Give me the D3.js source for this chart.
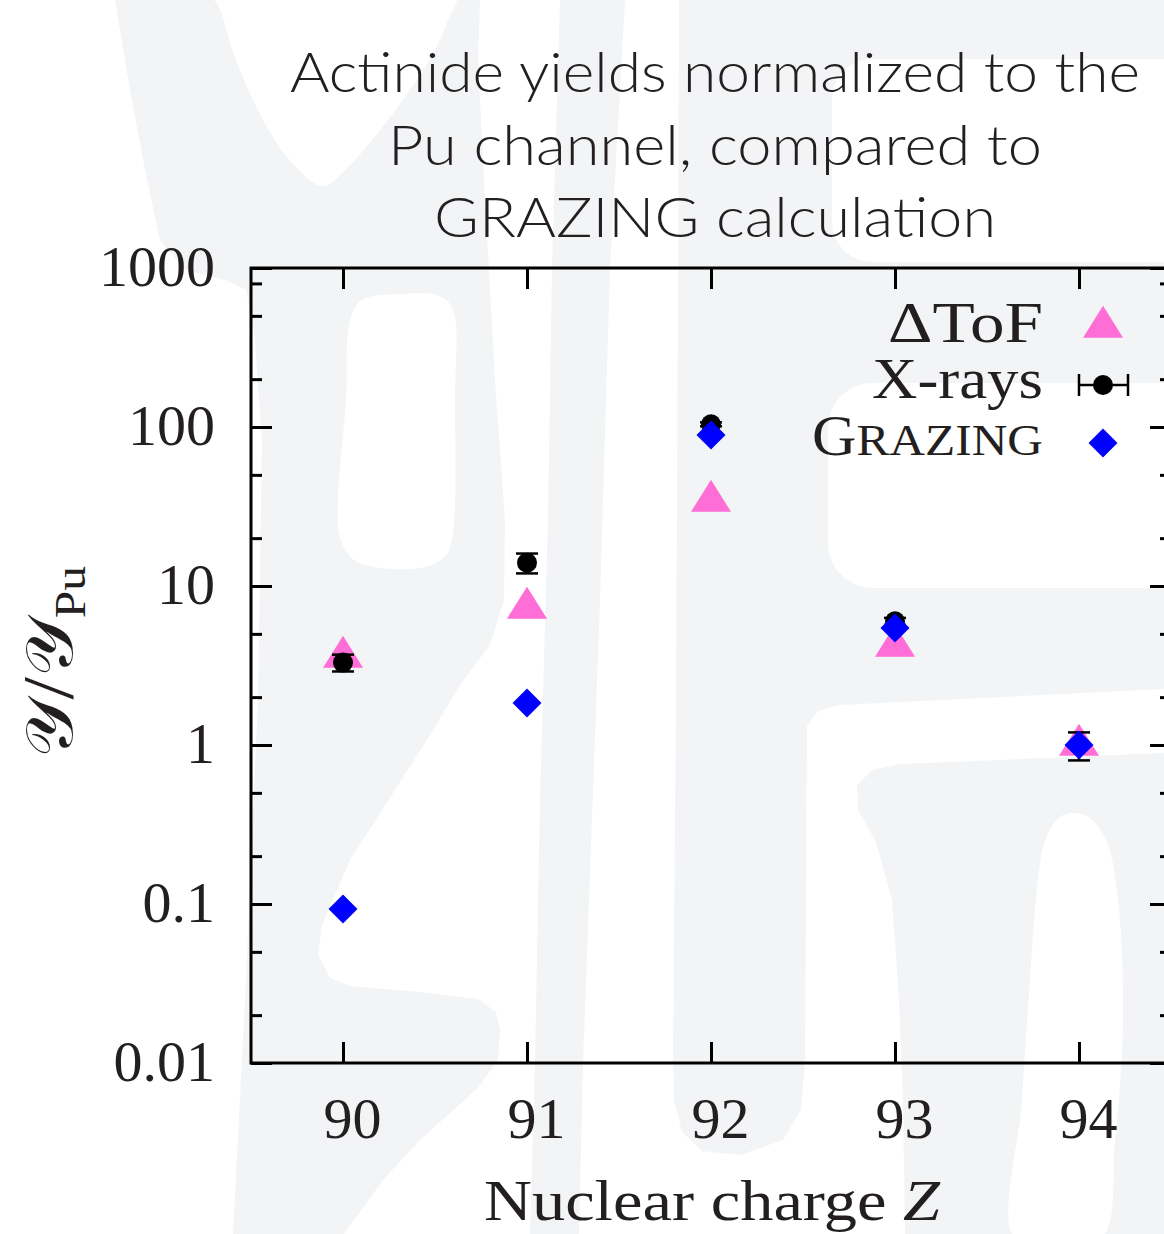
<!DOCTYPE html>
<html>
<head>
<meta charset="utf-8">
<script src="https://cdn.jsdelivr.net/npm/d3@7"></script>
<style>
  html, body { margin: 0; padding: 0; background: #ffffff; }
  svg { display: block; }
</style>
</head>
<body>
<div id="chart"></div>
<script>
// ---- data -------------------------------------------------------------
const zValues      = [90, 91, 92, 93, 94];
const tofYield     = [3.58, 7.27, 34.2, 4.19, 1.0];
const xrayYield    = [3.3, 14, 104, 6.0, 1.0];
const xrayErr      = [0.4, 2, 3, 0.3, 0.2];
const grazingYield = [0.093, 1.84, 89, 5.45, 1.0];

const xTickLabels  = ["90", "91", "92", "93", "94"];
const yMajorTicks  = [0.01, 0.1, 1, 10, 100, 1000];
const yTickLabels  = ["0.01", "0.1", "1", "10", "100", "1000"];
const yMinorTicks  = [0.02, 0.05, 0.2, 0.5, 2, 5, 20, 50, 200, 500, 800];

const titleLines = [
  "Actinide yields normalized to the",
  "Pu channel, compared to",
  "GRAZING calculation"
];

// ---- layout -----------------------------------------------------------
const W = 1164, H = 1234;
const plot = { left: 251, right: 1171, top: 268, bottom: 1063 };
const serif = "'Liberation Serif', 'DejaVu Serif', serif";
const ink = "#231f20";
const pink = "#ff6dd6";
const blue = "#0000ff";

const svg = d3.select("#chart").append("svg")
  .attr("width", W).attr("height", H)
  .attr("viewBox", `0 0 ${W} ${H}`);

// ---- faint background emblem -------------------------------------------
const wm = svg.append("g").attr("class", "emblem");
const wmGray = "#f3f4f6";
const lineClosed = d3.line().curve(d3.curveLinearClosed);
const smoothClosed = d3.line().curve(d3.curveCatmullRomClosed.alpha(0.5));

const emblemGray = [
  [[115,0],[480,0],[478,60],[485,200],[495,380],[505,520],[504,600],[490,645],[460,685],
   [430,735],[395,790],[350,860],[322,925],[318,955],[330,978],[350,986],[420,992],[478,999],
   [496,1012],[500,1030],[498,1060],[478,1088],[420,1140],[383,1180],[344,1234],[233,1234],
   [245,1000],[258,700],[262,440],[254,330],[246,290],[225,280],[185,270],[160,240],[145,170],[130,90]],
  [[560,0],[625,0],[610,268],[600,600],[583,1063],[579,1234],[530,1234],[535,1063],[540,800],[548,520],[552,268]],
  [[679,0],[1164,0],[1164,689],[840,705],[818,711],[807,726],[805,1060],[801,1110],[783,1140],
   [740,1155],[702,1151],[682,1132],[674,1100],[673,1060],[676,700],[678,300]],
  [[1164,753],[1000,760],[900,764],[872,770],[857,785],[858,810],[876,842],[892,900],[899,1000],
   [903,1100],[905,1234],[1164,1234]]
];
const emblemWhite = [
  [[205,-6],[216,2],[236,60],[262,118],[292,163],[323,186],[347,168],[377,134],[407,94],[434,52],[448,20],[456,-6]],
  [[362,300],[400,294],[440,296],[453,310],[455,400],[453,532],[446,555],[425,567],[382,568],
   [354,560],[340,538],[338,500],[346,400],[350,320]],
  [[1016,1240],[1022,1100],[1030,980],[1038,880],[1046,838],[1063,815],[1087,816],[1106,840],
   [1118,900],[1123,1020],[1115,1141],[1100,1240]]
];
emblemGray.forEach(p => wm.append("path").attr("d", lineClosed(p)).attr("fill", wmGray));
emblemWhite.forEach(p => wm.append("path").attr("d", smoothClosed(p)).attr("fill", "#ffffff"));
wm.append("rect").attr("x", 832).attr("y", 59).attr("width", 420).attr("height", 203)
  .attr("rx", 40).attr("fill", "#ffffff");
wm.append("rect").attr("x", 828).attr("y", 383).attr("width", 420).attr("height", 205)
  .attr("rx", 45).attr("fill", "#ffffff");

// ---- scales -----------------------------------------------------------
const x = d3.scaleLinear().domain([89.5, 94.5]).range([plot.left, plot.right]);
const y = d3.scaleLog().domain([0.01, 1000]).range([plot.bottom, plot.top]);

// ---- title ------------------------------------------------------------
const titleWidths = [850, 654, 562];
const title = svg.append("g")
  .attr("font-family", "Lato, 'Open Sans', sans-serif")
  .attr("font-weight", 300)
  .attr("font-size", 56)
  .attr("fill", ink)
  .attr("text-anchor", "middle");
titleLines.forEach((t, i) => {
  title.append("text")
    .attr("x", 715).attr("y", 92 + i * 72.5)
    .attr("textLength", titleWidths[i])
    .attr("lengthAdjust", "spacingAndGlyphs")
    .text(t);
});

// ---- axes -------------------------------------------------------------
function styleAxis(g) {
  g.select(".domain").remove();
  g.selectAll(".tick line").attr("stroke", "#000").attr("stroke-width", 3);
  g.selectAll(".tick text").attr("fill", ink).attr("font-family", serif).attr("font-size", 58);
}

// left: majors with labels, minors without
svg.append("g").attr("transform", `translate(${plot.left},0)`)
  .call(d3.axisLeft(y).tickValues(yMajorTicks).tickSize(-21).tickPadding(36)
    .tickFormat((d, i) => yTickLabels[i]))
  .call(styleAxis)
  .call(g => g.selectAll(".tick text").attr("dy", "0.3em"));
svg.append("g").attr("transform", `translate(${plot.left},0)`)
  .call(d3.axisLeft(y).tickValues(yMinorTicks).tickSize(-11).tickFormat(""))
  .call(styleAxis);

// right mirror ticks
svg.append("g").attr("transform", `translate(${plot.right},0)`)
  .call(d3.axisRight(y).tickValues(yMajorTicks).tickSize(-21).tickFormat(""))
  .call(styleAxis);
svg.append("g").attr("transform", `translate(${plot.right},0)`)
  .call(d3.axisRight(y).tickValues(yMinorTicks).tickSize(-11).tickFormat(""))
  .call(styleAxis);

// bottom with labels, top mirror
svg.append("g").attr("transform", `translate(0,${plot.bottom})`)
  .call(d3.axisBottom(x).tickValues(zValues).tickSize(-21).tickPadding(34)
    .tickFormat((d, i) => xTickLabels[i]))
  .call(styleAxis)
  .call(g => g.selectAll(".tick text").attr("dx", 9).attr("dy", "0.71em"));
svg.append("g").attr("transform", `translate(0,${plot.top})`)
  .call(d3.axisTop(x).tickValues(zValues).tickSize(-21).tickFormat(""))
  .call(styleAxis);

// frame
svg.append("rect")
  .attr("x", plot.left).attr("y", plot.top)
  .attr("width", plot.right - plot.left).attr("height", plot.bottom - plot.top)
  .attr("fill", "none").attr("stroke", "#000").attr("stroke-width", 3);

// ---- axis titles ------------------------------------------------------
svg.append("text")
  .attr("x", 712).attr("y", 1220)
  .attr("text-anchor", "middle")
  .attr("font-family", serif).attr("font-size", 58).attr("fill", ink)
  .attr("textLength", 456).attr("lengthAdjust", "spacingAndGlyphs")
  .call(t => {
    t.append("tspan").text("Nuclear charge ");
    t.append("tspan").attr("font-style", "italic").text("Z");
  });

svg.append("text")
  .attr("transform", "translate(72,662) rotate(-90)")
  .attr("text-anchor", "middle")
  .attr("font-family", serif).attr("font-size", 66).attr("fill", ink)
  .attr("textLength", 192).attr("lengthAdjust", "spacingAndGlyphs")
  .call(t => {
    t.append("tspan").text("\u{1D4B4}");
    t.append("tspan").attr("font-size", 72).text("/");
    t.append("tspan").text("\u{1D4B4}");
    t.append("tspan").attr("font-size", 44).attr("dy", 13).text("Pu");
  });

// ---- marks ------------------------------------------------------------
const tri = d3.symbol().type({
  draw(ctx) {
    // centroid-centred filled triangle, 40 wide, 32 tall
    ctx.moveTo(0, -21.3); ctx.lineTo(20, 10.7); ctx.lineTo(-20, 10.7); ctx.closePath();
  }
})();
const diamond = "M0,-14.5L14.5,0L0,14.5L-14.5,0Z";
const clipId = "plot-clip";
svg.append("clipPath").attr("id", clipId).append("rect")
  .attr("x", plot.left).attr("y", plot.top)
  .attr("width", plot.right - plot.left).attr("height", plot.bottom - plot.top);
const marks = svg.append("g").attr("clip-path", `url(#${clipId})`);

// ΔToF triangles
marks.selectAll(".tof").data(zValues).join("path")
  .attr("class", "tof")
  .attr("d", tri)
  .attr("transform", (d, i) => `translate(${x(d)},${y(tofYield[i])})`)
  .attr("fill", pink);

// X-ray points with error bars
const xr = marks.selectAll(".xray").data(zValues).join("g").attr("class", "xray");
xr.append("line")
  .attr("x1", d => x(d)).attr("x2", d => x(d))
  .attr("y1", (d, i) => y(xrayYield[i] + xrayErr[i]))
  .attr("y2", (d, i) => y(xrayYield[i] - xrayErr[i]))
  .attr("stroke", "#000").attr("stroke-width", 2.5);
[1, -1].forEach(s => {
  xr.append("line")
    .attr("x1", d => x(d) - 11).attr("x2", d => x(d) + 11)
    .attr("y1", (d, i) => y(xrayYield[i] + s * xrayErr[i]))
    .attr("y2", (d, i) => y(xrayYield[i] + s * xrayErr[i]))
    .attr("stroke", "#000").attr("stroke-width", 2.5);
});
xr.append("circle")
  .attr("cx", d => x(d)).attr("cy", (d, i) => y(xrayYield[i]))
  .attr("r", 10).attr("fill", "#000");

// GRAZING diamonds
marks.selectAll(".grazing").data(zValues).join("path")
  .attr("class", "grazing")
  .attr("d", diamond)
  .attr("transform", (d, i) => `translate(${x(d)},${y(grazingYield[i])})`)
  .attr("fill", blue);

// ---- legend -----------------------------------------------------------
const legend = svg.append("g")
  .attr("font-family", serif).attr("font-size", 56).attr("fill", ink)
  .attr("text-anchor", "end");
const keyX = 1103, textX = 1043;

legend.append("text").attr("x", textX).attr("y", 342)
  .attr("textLength", 155).attr("lengthAdjust", "spacingAndGlyphs").text("\u0394ToF");
legend.append("path").attr("d", tri).attr("transform", `translate(${keyX},327)`).attr("fill", pink);

legend.append("text").attr("x", textX).attr("y", 398)
  .attr("textLength", 171).attr("lengthAdjust", "spacingAndGlyphs").text("X-rays");
legend.append("line").attr("x1", keyX - 24).attr("x2", keyX + 25).attr("y1", 385).attr("y2", 385)
  .attr("stroke", "#000").attr("stroke-width", 2.5);
[keyX - 24, keyX + 25].forEach(cx => legend.append("line")
  .attr("x1", cx).attr("x2", cx).attr("y1", 374).attr("y2", 396)
  .attr("stroke", "#000").attr("stroke-width", 2.5));
legend.append("circle").attr("cx", keyX).attr("cy", 385).attr("r", 10).attr("fill", "#000");

legend.append("text").attr("x", textX).attr("y", 455)
  .attr("textLength", 231).attr("lengthAdjust", "spacingAndGlyphs")
  .call(t => {
    t.append("tspan").text("G");
    t.append("tspan").attr("font-size", 45).text("RAZING");
  });
legend.append("path").attr("d", diamond).attr("transform", `translate(${keyX},443)`).attr("fill", blue);
</script>
</body>
</html>
